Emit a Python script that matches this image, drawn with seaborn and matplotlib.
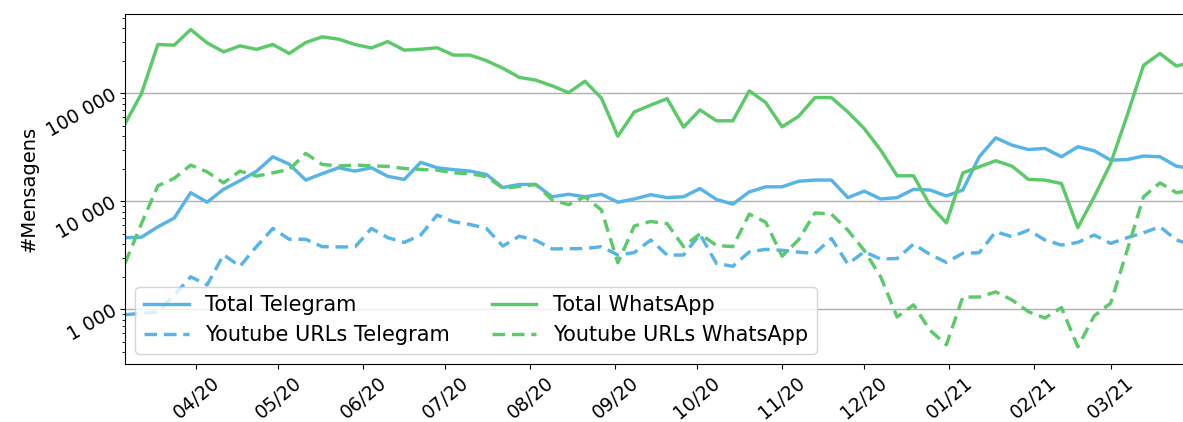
import pandas as pd
import matplotlib
matplotlib.use("Agg")
import matplotlib.pyplot as plt
import matplotlib.dates as mdates
import matplotlib.ticker as mticker
import seaborn as sns

# samples every 6 days, starting early March 2020
dates = pd.date_range("2020-03-06", periods=66, freq="6D")

total_telegram = [
    4600, 4650, 5800, 7000, 12000, 9800, 12900, 15500, 18900, 25800,
    22000, 15700, 18000, 20400, 19000, 20400, 17000, 15900, 22900, 20400,
    19600, 19000, 17700, 13400, 14300, 14300, 11000, 11600, 11000, 11600,
    9800, 10500, 11500, 10800, 11000, 13100, 10400, 9400, 12200, 13600,
    13600, 15300, 15700, 15700, 10800, 12400, 10500, 10800, 12900, 12700,
    11200, 12700, 25800, 38600, 33000, 30100, 30800, 25800, 31900, 29300,
    24000, 24300, 26200, 25800, 21100, 20100,
]
youtube_telegram = [
    890, 920, 950, 1350, 2000, 1680, 3200, 2500, 3800, 5600,
    4450, 4450, 3800, 3780, 3780, 5600, 4600, 4160, 4870, 7450,
    6460, 6100, 5600, 3850, 4750, 4350, 3620, 3640, 3650, 3800,
    3180, 3350, 4380, 3180, 3180, 4950, 2660, 2500, 3400, 3590,
    3520, 3380, 3300, 4530, 2620, 3410, 2920, 2950, 4020, 3220,
    2720, 3300, 3340, 5220, 4700, 5410, 4380, 3930, 4160, 4870,
    4070, 4600, 5110, 5810, 4380, 3930,
]
total_whatsapp = [
    52000, 99000, 282000, 278000, 388000, 292000, 241000, 274000, 254000, 282000,
    233000, 294000, 332000, 316000, 282000, 262000, 300000, 250000, 255000, 263000,
    225000, 225000, 200000, 170000, 140000, 132000, 117000, 101000, 129000, 90000,
    40000, 67000, 77500, 89000, 48500, 70000, 55500, 55500, 105000, 82000,
    48800, 61000, 91000, 91000, 67000, 47000, 29700, 17200, 17200, 9200,
    6300, 18300, 20800, 23700, 21100, 15900, 15700, 14600, 5700, 11000,
    22400, 62000, 181000, 233000, 178000, 195000,
]
youtube_whatsapp = [
    2660, 6200, 13900, 16300, 21600, 18700, 14800, 19000, 17100, 18300,
    19700, 27700, 21900, 21200, 21600, 21300, 21000, 20100, 19700, 19400,
    18300, 18000, 16900, 13200, 13700, 14300, 10300, 9300, 11000, 8300,
    2700, 5900, 6500, 6200, 3800, 5000, 3900, 3800, 7600, 6400,
    3100, 4400, 7800, 7600, 5400, 3500, 2000, 850, 1100, 640,
    470, 1300, 1300, 1450, 1220, 950, 830, 1040, 450, 870,
    1140, 3500, 11000, 14800, 12000, 12700,
]

ytick_values = [1000, 10000, 100000]
ytick_labels = [f"{v:,}".replace(",", " ") for v in ytick_values]

blue = "#56B4E9"
green = "#5CC96A"
dashed = (0, (3.7, 2.0))

fig = plt.figure(figsize=(11.83, 4.22), dpi=100)
ax = fig.add_axes([125 / 1183, 1 - 364 / 422, 1 - 125 / 1183, 350 / 422])

sns.lineplot(x=dates, y=total_telegram, ax=ax, color=blue, linewidth=2.45, label="Total Telegram")
sns.lineplot(x=dates, y=youtube_telegram, ax=ax, color=blue, linewidth=2.45, linestyle=dashed,
             label="Youtube URLs Telegram")
sns.lineplot(x=dates, y=total_whatsapp, ax=ax, color=green, linewidth=2.45, label="Total WhatsApp")
sns.lineplot(x=dates, y=youtube_whatsapp, ax=ax, color=green, linewidth=2.45, linestyle=dashed,
             label="Youtube URLs WhatsApp")

ax.set_yscale("log")
ax.set_ylim(312, 540000)
ax.set_xlim(dates[0], pd.Timestamp("2021-03-27 10:00"))

ax.set_yticks(ytick_values)
ax.set_yticklabels(ytick_labels, rotation=30, rotation_mode="anchor",
                   ha="right", va="center", fontsize=13.5)
ax.yaxis.set_minor_locator(mticker.LogLocator(base=10, subs=range(2, 10)))
ax.yaxis.set_minor_formatter(mticker.NullFormatter())
ax.xaxis.set_major_locator(mdates.MonthLocator())
ax.xaxis.set_major_formatter(mdates.DateFormatter("%m/%y"))

ax.tick_params(axis="x", labelrotation=40, labelsize=13.5)
ax.set_ylabel("#Mensagens", fontsize=14)
ax.set_xlabel("")

ax.yaxis.grid(True, which="major", color="#b0b0b0", linewidth=1)
ax.spines["right"].set_visible(False)

ax.legend(ncol=2, loc="lower left", fontsize=15, handlelength=2.15)

fig.savefig("out.png", dpi=100)
